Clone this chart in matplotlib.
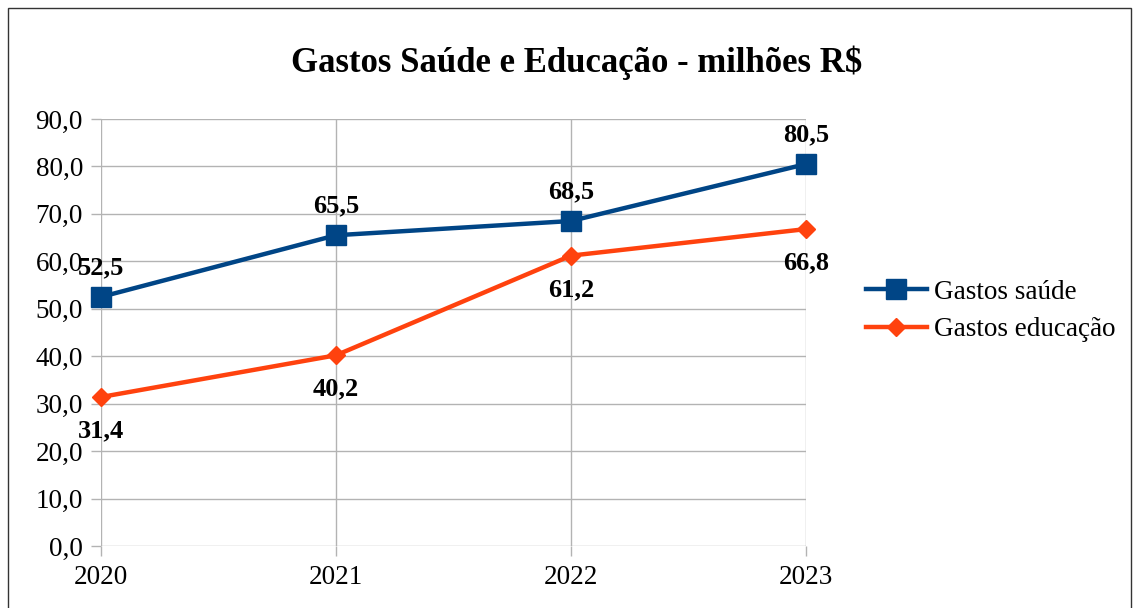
import matplotlib.pyplot as plt
from matplotlib.patches import Rectangle

plt.rcParams['font.family'] = ['Liberation Serif', 'DejaVu Serif']

anos = ["2020", "2021", "2022", "2023"]
saude = [52.5, 65.5, 68.5, 80.5]
educacao = [31.4, 40.2, 61.2, 66.8]

azul = '#004586'
laranja = '#ff420e'

fig = plt.figure(figsize=(11.4, 6.08), dpi=100)
ax = fig.add_axes([101 / 1140, 1 - 546 / 608, (806 - 101) / 1140, (546 - 119) / 608])

x = list(range(len(anos)))
ax.plot(x, saude, color=azul, lw=3.2, marker='s', ms=14, label='Gastos saúde', zorder=3, clip_on=False)
ax.plot(x, educacao, color=laranja, lw=3.2, marker='D', ms=9.5, label='Gastos educação', zorder=3, clip_on=False)

for i, v in enumerate(saude):
    ax.annotate(f"{v:.1f}".replace('.', ','), (i, v), xytext=(0, 13), textcoords='offset points',
                ha='center', va='bottom', fontsize=19, fontweight='bold')
for i, v in enumerate(educacao):
    ax.annotate(f"{v:.1f}".replace('.', ','), (i, v), xytext=(0, -16), textcoords='offset points',
                ha='center', va='top', fontsize=19, fontweight='bold')

ax.set_xlim(0, 3)
ax.set_ylim(0, 90)
ax.set_yticks(range(0, 91, 10))
ax.set_yticklabels([f"{t},0" for t in range(0, 91, 10)], fontsize=19.5)
ax.set_xticks(x)
ax.set_xticklabels(anos, fontsize=19.5)
ax.grid(True, color='#b3b3b3', lw=1)
ax.set_axisbelow(True)
for s in ax.spines.values():
    s.set_visible(False)
ax.tick_params(axis='both', color='#b3b3b3', length=7, width=1)
ax.tick_params(axis='y', pad=6)
ax.tick_params(axis='x', pad=7)

fig.suptitle("Gastos Saúde e Educação - milhões R$", x=(293 + 860) / 2 / 1140, y=1 - 63 / 608,
             va='center', fontsize=25, fontweight='bold')

fig.legend(loc='center left', bbox_to_anchor=(855 / 1140, 1 - 311 / 608), frameon=False,
           fontsize=19.5, handlelength=2.25, handletextpad=0.25, labelspacing=0.45, borderaxespad=0)

fig.patches.append(Rectangle((8 / 1140, -0.1), (1131 - 8) / 1140, 1.1 - 8 / 608,
                             transform=fig.transFigure, fill=False, ec='#333333', lw=1))

fig.savefig('out.png', dpi=100)
